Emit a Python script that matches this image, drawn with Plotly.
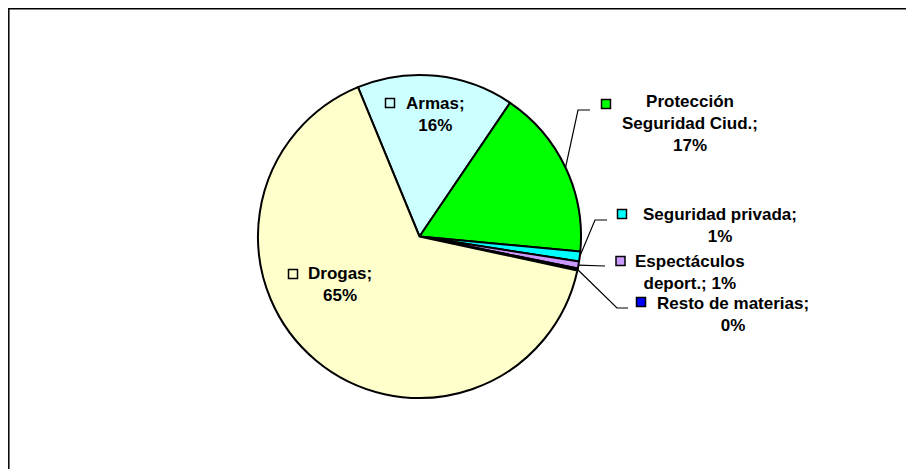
import math
import plotly.graph_objects as go

# data (percent of total)
labels = ["Armas", "Protección Seguridad Ciud.", "Seguridad privada",
          "Espectáculos deport.", "Resto de materias", "Drogas"]
values = [15.7, 17.0, 1.0, 0.7, 0.2, 65.4]
colors = ["#CCFFFF", "#00FF00", "#00FFFF", "#CC99FF", "#0000FF", "#FFFFCC"]
# data label text, broken over lines as in the original
label_lines = [
    ["Armas;", "{p}"],
    ["Protección", "Seguridad Ciud.;", "{p}"],
    ["Seguridad privada;", "{p}"],
    ["Espectáculos", "deport.; {p}"],
    ["Resto de materias;", "{p}"],
    ["Drogas;", "{p}"],
]

# layout, in pixels of the 914x469 browser page
PAGE_W, PAGE_H = 914, 469
OFF = 8  # the html body margin pushes the plot 8px right and down
W, H = PAGE_W - OFF, PAGE_H - OFF
CX, CY, R = 419.5, 236.5, 161.5
START = -22.4

# text block centres, legend key centres and leader line bends
text_pos = [(435, 114), (690, 124), (720, 225), (690, 272), (733, 314), (340, 284)]
key_pos = [(390, 103), (606, 104), (622, 214), (620.5, 261), (641, 302), (293, 274)]
leaders = {1: [(578, 110), (590, 110)],
           2: [(595, 220), (607, 220)],
           3: [(605, 266)],
           4: [(617, 308), (628, 308)]}


def px(x):
    return (x - OFF) / W


def py(y):
    return 1 - (y - OFF) / H


fig = go.Figure(go.Pie(
    labels=labels,
    values=values,
    sort=False,
    direction="clockwise",
    rotation=START,
    marker=dict(colors=colors, line=dict(color="black", width=2)),
    textinfo="none",
    hoverinfo="label+percent",
    showlegend=False,
    domain=dict(x=[px(CX - R), px(CX + R)], y=[py(CY + R), py(CY - R)]),
))

total = sum(values)
shapes = []
annotations = []
cum = 0
for i, v in enumerate(values):
    pct = f"{round(v / total * 100)}%"
    text = "<br>".join(line.format(p=pct) for line in label_lines[i])
    tx, ty = text_pos[i]
    annotations.append(dict(
        x=px(tx), y=py(ty), xref="paper", yref="paper",
        text=text, showarrow=False, xanchor="center", yanchor="middle", align="center",
        font=dict(family="Liberation Sans, Arial, sans-serif", size=17, color="black", weight="bold"),
    ))
    kx, ky = key_pos[i]
    shapes.append(dict(
        type="rect", xref="paper", yref="paper", xsizemode="pixel", ysizemode="pixel",
        xanchor=px(kx), yanchor=py(ky), x0=-4.5, x1=4.5, y0=-4.5, y1=4.5,
        fillcolor=colors[i], line=dict(color="black", width=1.5),
    ))
    if i in leaders:
        ang = math.radians(START + 360 * (cum + v / 2) / total)
        sx, sy = CX + R * math.sin(ang), CY - R * math.cos(ang)
        path = f"M {px(sx)},{py(sy)}"
        for bx, by in leaders[i]:
            path += f" L {px(bx)},{py(by)}"
        shapes.append(dict(type="path", xref="paper", yref="paper", path=path,
                           line=dict(color="black", width=1.2)))
    cum += v

# chart area border (only top and left edges fall inside the page)
shapes.append(dict(type="rect", xref="paper", yref="paper",
                   x0=0.8 / W, y0=-0.05, x1=1.05, y1=1 - 0.8 / H,
                   line=dict(color="black", width=1.5)))

fig.update_layout(
    width=W, height=H,
    margin=dict(l=0, r=0, t=0, b=0),
    paper_bgcolor="white",
    plot_bgcolor="white",
    shapes=shapes,
    annotations=annotations,
)

fig.write_html("out.html")
